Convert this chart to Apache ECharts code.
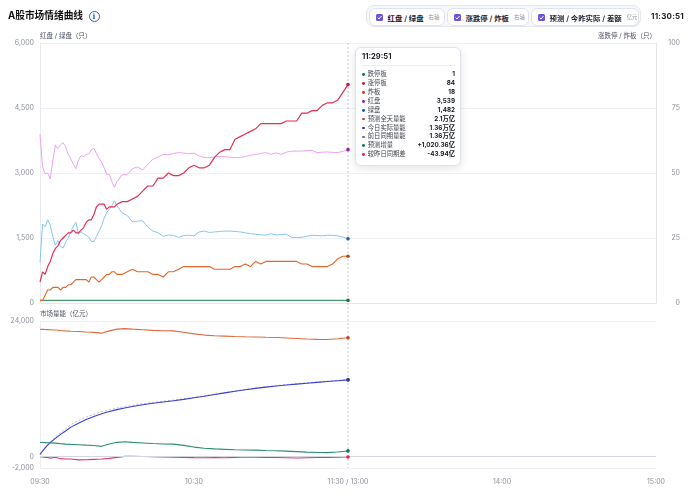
<!DOCTYPE html>
<html lang="zh-CN">
  <head>
    <meta charset="utf-8">
    <title>A股市场情绪曲线</title>
    <script src="https://cdn.jsdelivr.net/npm/echarts@6.0.0/dist/echarts.min.js"></script>
    <style>
      body { margin: 0; background: #fff; font-family: Inter, "Noto Sans CJK SC", sans-serif; }
      #wrap { position: relative; width: 690px; height: 499px; overflow: hidden; }
      #main { position: absolute; left: 0; top: 0; width: 690px; height: 499px; }
      .title { position: absolute; left: 8px; top: 9px; font-size: 9.7px; font-weight: 700; color: #111; line-height: 14px; }
      .info { position: absolute; left: 88.5px; top: 10.5px; width: 9px; height: 9px; border: 1.3px solid #2f5fd6; border-radius: 50%;
              color: #2f5fd6; font-size: 7.5px; font-weight: 700; line-height: 9px; text-align: center; font-family: "DejaVu Serif", serif; }
      .legend { position: absolute; left: 366px; top: 5px; width: 275px; height: 22px; box-sizing: border-box;
                border: 1px solid #e3e6ef; border-radius: 8px; background: #f8f9fc; }
      .pill { position: absolute; top: 2px; height: 18px; box-sizing: border-box; border: 1px solid #dfe3ec; border-radius: 6px;
              background: #fff; display: flex; align-items: center; padding-left: 6px; white-space: nowrap; }
      .box { width: 7px; height: 7px; border-radius: 1.5px; background: #6c52e0; margin-right: 4.5px; position: relative; }
      .box svg { position: absolute; left: 0; top: 0; }
      .txt { font-size: 7.4px; font-weight: 600; color: #1f2330; }
      .sub { font-size: 5.4px; color: #8a8f9c; margin-left: 5px; }
      .clock { position: absolute; left: 651px; top: 10px; font-size: 8px; font-weight: 700; color: #222; line-height: 12px; letter-spacing: 0.2px; }
    </style>
  </head>
  <body>
    <div id="wrap">
      <div id="main"></div>
      <div class="title">A股市场情绪曲线</div>
      <div class="info">i</div>
      <div class="legend">
        <div class="pill" style="left:2px;width:76px"><span class="box"><svg width="7" height="7"><path d="M1.6 3.6 L3 5 L5.5 2" stroke="#fff" stroke-width="1" fill="none"/></svg></span><span class="txt">红盘 / 绿盘</span><span class="sub">右轴</span></div>
        <div class="pill" style="left:80px;width:82px"><span class="box"><svg width="7" height="7"><path d="M1.6 3.6 L3 5 L5.5 2" stroke="#fff" stroke-width="1" fill="none"/></svg></span><span class="txt">涨跌停 / 炸板</span><span class="sub">右轴</span></div>
        <div class="pill" style="left:164px;width:108px"><span class="box"><svg width="7" height="7"><path d="M1.6 3.6 L3 5 L5.5 2" stroke="#fff" stroke-width="1" fill="none"/></svg></span><span class="txt">预测 / 今昨实际 / 差额</span><span class="sub">亿元</span></div>
      </div>
      <div class="clock">11:30:51</div>
    </div>

    <script>
        // x 轴：交易分钟（0 = 09:30，120 = 11:30/13:00，240 = 15:00）
        var xLabels = ['09:30', '10:30', '11:30 / 13:00', '14:00', '15:00'];
        var tipTime = '11:29:51';

        // 上图采样时间（分钟）
        var topMinutes = [0,1,2,3,4,5,6,7,8,9,10,11,12,13,14,15,16,17,18,19,20,21,22,23,24,25,26,27,28,29,30,
            32,34,36,38,40,42,44,46,48,50,52,54,56,58,60,62,64,66,68,70,72,74,76,78,80,82,84,86,88,90,
            92,94,96,98,100,102,104,106,108,110,112,114,116,118,120];

        var redCount = [3890,3150,2980,3000,2860,3300,3640,3560,3650,3700,3600,3430,3320,3200,3100,3300,3400,3380,3430,3440,
            3540,3570,3450,3340,3250,3120,2970,2970,2800,2670,2800,
            2960,2960,3100,3140,3070,3200,3320,3370,3430,3420,3450,3470,3460,3440,3460,3390,3360,3350,3375,3380,
            3375,3365,3355,3355,3380,3410,3430,3450,3470,3430,3465,3430,3480,3505,3505,3506,3515,3520,3470,3480,
            3485,3475,3470,3500,3539];
        var greenCount = [936,1820,1760,1920,1800,1530,1330,1440,1300,1270,1400,1500,1640,1780,1860,1588,1640,1600,1560,1520,
            1420,1420,1540,1660,1780,1960,2090,2160,2240,2355,2240,
            2080,2020,1870,1890,1900,1750,1660,1620,1540,1570,1560,1512,1560,1565,1550,1640,1660,1627,1640,1650,
            1660,1660,1650,1640,1620,1600,1588,1575,1565,1600,1570,1580,1588,1515,1512,1515,1540,1565,1555,1550,
            1565,1560,1550,1520,1482];
        var limitUp = [8,12,11,14,16,19,21,22,24,25,26,27,27,28,27,27,28,29,31,32,32,34,37,38,38,38,36,37,37,37,38,
            39,39,40,41,43,45,45,48,48,50,49,49,50,52,53,52,52,53,56,58,59,59,63,64,65,66,67,69,69,69,
            69,69,70,70,70,73,73,74,74,76,77,77,78,81,84];
        var brokenBoard = [1,1,3,5,5,6,6,6,5,6,6,7,7,8,9,9,9,9,9,8,10,10,9,8,9,10,11,11,12,12,11,
            11,12,13,12,12,12,11,11,10,12,12,13,14,14,14,14,14,14,13,13,13,13,14,14,15,14,16,15,16,16,
            16,16,16,16,16,15,15,14,14,14,14,15,17,18,18];
        var limitDownMinutes = [0, 120];
        var limitDown = [1, 1];

        // 下图采样时间（分钟）
        var volMinutes = [0,1,2,3,4,6,8,10,12,15,18,21,24,27,30,33,36,40,44,48,52,56,60,64,68,72,76,80,84,88,92,96,100,104,108,112,116,120];
        var volForecast = [22540,22520,22500,22480,22460,22420,22330,22250,22200,22140,22060,21990,21850,22250,22560,22650,22560,22450,22340,
            22270,22250,22020,21720,21510,21400,21320,21250,21210,21180,21120,21075,21000,20910,20820,20750,20740,20850,21040];
        var volToday = [400,1000,1550,2050,2500,3250,3950,4550,5230,5920,6580,7100,7600,7990,8330,8620,8880,9180,9450,
            9680,9900,10140,10420,10700,11000,11290,11580,11850,12080,12300,12500,12680,12840,12990,13140,13290,13430,13580];
        var volPrevSame = [400,1000,1600,2150,2650,3500,4300,4950,5650,6400,7000,7500,7950,8300,8600,8850,9080,9350,9600,
            9800,10000,10230,10500,10780,11060,11350,11640,11900,12140,12360,12570,12760,12920,13070,13220,13370,13490,13624];
        var volIncrement = [2520,2500,2480,2460,2440,2400,2310,2230,2180,2120,2040,1970,1830,2230,2540,2630,2540,2430,2320,
            2250,2230,2000,1700,1490,1380,1300,1230,1190,1160,1100,1055,980,890,800,730,720,830,1020.36];
        var volDiff = [0,-60,-120,-150,-250,-100,-350,-420,-420,-560,-540,-480,-420,-300,-120,60,60,40,0,
            -60,-100,-130,-170,-175,-170,-175,-120,-60,-80,-117,-150,-190,-234,-180,-130,-117,-110,-43.94];

        var FONT = 'Inter, "Noto Sans CJK SC", sans-serif';
        var labelGrey = '#8b909b';
        var nameGrey = '#4d5262';

        function pairs(xs, ys) {
            return ys.map(function (v, i) { return [xs[i], v]; });
        }
        function lastOf(a) { return a[a.length - 1]; }

        function endDot(xs, ys, color) {
            return {
                symbol: 'circle', symbolSize: 3.6, silent: true,
                itemStyle: {color: color},
                label: {show: false},
                data: [{coord: [lastOf(xs), lastOf(ys)]}]
            };
        }

        function lineSeries(name, xi, yi, xs, ys, color, dotColor, width, extra) {
            var s = {
                name: name, type: 'line', xAxisIndex: xi, yAxisIndex: yi,
                data: pairs(xs, ys), showSymbol: false, symbol: 'none',
                lineStyle: {color: color, width: width || 1.1},
                itemStyle: {color: dotColor},
                markPoint: endDot(xs, ys, dotColor),
                animation: false
            };
            for (var k in extra) s[k] = extra[k];
            return s;
        }

        function fmtCount(v) { return Math.round(v).toLocaleString('en-US'); }
        function fmtWan(v) { return (v / 10000).toFixed(2).replace(/0+$/, '').replace(/\.$/, '') + '万亿'; }
        function fmtYi(v) {
            return (v > 0 ? '+' : '') + v.toLocaleString('en-US', {minimumFractionDigits: 2, maximumFractionDigits: 2}) + '亿';
        }

        var tipRows = [
            ['跌停板', '#127a45', fmtCount(lastOf(limitDown))],
            ['涨停板', '#c81e3c', fmtCount(lastOf(limitUp))],
            ['炸板', '#c2480f', fmtCount(lastOf(brokenBoard))],
            ['红盘', '#9d1fb0', fmtCount(lastOf(redCount))],
            ['绿盘', '#1d5fb0', fmtCount(lastOf(greenCount))],
            ['预测全天量能', '#c8461a', fmtWan(lastOf(volForecast))],
            ['今日实际量能', '#2f33b8', fmtWan(lastOf(volToday))],
            ['前日同期量能', '#6b7080', fmtWan(lastOf(volPrevSame))],
            ['预测增量', '#127a5a', fmtYi(lastOf(volIncrement))],
            ['较昨日同期差', '#e0245a', fmtYi(lastOf(volDiff))]
        ];

        function tipHtml() {
            var h = '<div style="font-family:' + FONT.replace(/"/g, "'") + ';">';
            h += '<div style="font-size:7.6px;font-weight:700;color:#1a1d26;line-height:11px;padding-bottom:3px;border-bottom:1px solid #eceef2;margin-bottom:4px;">' + tipTime + '</div>';
            tipRows.forEach(function (r) {
                h += '<div style="display:flex;align-items:center;height:8.93px;line-height:8.93px;font-size:6.3px;">' +
                    '<span style="width:2.8px;height:2.8px;border-radius:50%;background:' + r[1] + ';margin-right:3px;flex:none;"></span>' +
                    '<span style="color:#40444f;flex:1;">' + r[0] + '</span>' +
                    '<span style="color:#15171e;font-weight:700;">' + r[2] + '</span></div>';
            });
            h += '</div>';
            return h;
        }

        var chart = echarts.init(document.getElementById('main'), null, {renderer: 'canvas'});

        var xBase = {
            type: 'value', min: 0, max: 240, interval: 60,
            axisTick: {show: false}, splitLine: {show: false}
        };

        var option = {
            animation: false,
            textStyle: {fontFamily: FONT},
            grid: [
                {left: 40, right: 34, top: 43, height: 260},
                {left: 40, right: 34, top: 321, height: 147}
            ],
            tooltip: {
                trigger: 'axis', triggerOn: 'none', alwaysShowContent: true,
                axisPointer: {type: 'line', lineStyle: {opacity: 0}},
                padding: [3, 5, 6, 6],
                backgroundColor: '#fff', borderColor: '#dfe2e8', borderWidth: 1,
                extraCssText: 'border-radius:6px;box-shadow:0 2px 8px rgba(30,40,70,0.13);width:106px;box-sizing:border-box;',
                transitionDuration: 0,
                position: function () {
                    var px = chart.convertToPixel({xAxisIndex: 0}, 120);
                    return [px + 7, 47];
                },
                formatter: function () { return tipHtml(); }
            },
            xAxis: [
                Object.assign({}, xBase, {
                    gridIndex: 0,
                    axisLine: {show: true, lineStyle: {color: '#e6e8ec'}},
                    axisLabel: {show: false}
                }),
                Object.assign({}, xBase, {
                    gridIndex: 1,
                    axisLine: {show: true, onZero: false, lineStyle: {color: '#eef0f3'}},
                    axisLabel: {
                        show: true, color: labelGrey, fontSize: 7, margin: 10,
                        formatter: function (v) { return xLabels[Math.round(v / 60)]; }
                    }
                })
            ],
            yAxis: [
                {
                    type: 'value', gridIndex: 0, position: 'left', min: 0, max: 6000, interval: 1500,
                    name: '红盘 / 绿盘（只）', nameGap: 4,
                    nameTextStyle: {color: nameGrey, fontSize: 6.5, align: 'left', verticalAlign: 'bottom', padding: [0, 0, 0, 0]},
                    axisLine: {show: true, lineStyle: {color: '#e8eaee'}},
                    axisTick: {show: false},
                    axisLabel: {color: labelGrey, fontSize: 7, margin: 6,
                        formatter: function (v) { return v.toLocaleString('en-US'); }},
                    splitLine: {show: true, lineStyle: {color: '#f0f1f4'}}
                },
                {
                    type: 'value', gridIndex: 0, position: 'right', min: 0, max: 100, interval: 25,
                    name: '涨跌停 / 炸板（只）', nameGap: 4,
                    nameTextStyle: {color: nameGrey, fontSize: 6.5, align: 'right', verticalAlign: 'bottom'},
                    axisLine: {show: true, lineStyle: {color: '#e3e5ea'}},
                    axisTick: {show: false},
                    axisLabel: {color: labelGrey, fontSize: 7, margin: 24, align: 'right'},
                    splitLine: {show: false}
                },
                {
                    type: 'value', gridIndex: 1, position: 'left', min: -2000, max: 24000, interval: 26000,
                    name: '市场量能（亿元）', nameGap: 4,
                    nameTextStyle: {color: nameGrey, fontSize: 6.5, align: 'left', verticalAlign: 'bottom'},
                    axisLine: {show: true, lineStyle: {color: '#eceef1'}},
                    axisTick: {show: false},
                    axisLabel: {color: labelGrey, fontSize: 7, margin: 6,
                        formatter: function (v) { return v.toLocaleString('en-US'); }},
                    splitLine: {show: true, lineStyle: {color: '#f0f1f4'}}
                }
            ],
            series: [
                lineSeries('红盘', 0, 0, topMinutes, redCount, '#d993dd', '#9d1fb0', 1),
                lineSeries('绿盘', 0, 0, topMinutes, greenCount, '#79b5d8', '#1d5fb0', 1),
                lineSeries('跌停板', 0, 1, limitDownMinutes, limitDown, '#3e9466', '#127a45', 1.4),
                lineSeries('炸板', 0, 1, topMinutes, brokenBoard, '#cc5e2a', '#c2480f', 1.1),
                lineSeries('涨停板', 0, 1, topMinutes, limitUp, '#cf2b4b', '#c81e3c', 1.2),

                lineSeries('预测全天量能', 1, 2, volMinutes, volForecast, '#dc6a3e', '#d13d17', 1.1),
                lineSeries('前日同期量能', 1, 2, volMinutes, volPrevSame, '#b9bcc7', '#7a7f8e', 1, {
                    lineStyle: {color: '#b9bcc7', width: 1, type: [2, 2]}
                }),
                lineSeries('今日实际量能', 1, 2, volMinutes, volToday, '#3b3fcc', '#2f33b8', 1.1),
                lineSeries('预测增量', 1, 2, volMinutes, volIncrement, '#2f8c75', '#127a45', 1.1),
                lineSeries('较昨日同期差', 1, 2, volMinutes, volDiff, '#d8396f', '#e0245a', 1.1, {
                    markLine: {
                        silent: true, symbol: 'none', animation: false,
                        lineStyle: {color: '#d3d6dc', type: 'solid', width: 1},
                        label: {show: true, position: 'start', formatter: '0', color: labelGrey, fontSize: 7, distance: 6},
                        data: [{yAxis: 0}]
                    }
                })
            ]
        };

        chart.setOption(option);

        // 当前时刻竖虚线（贯穿上下两图）
        var nowX = chart.convertToPixel({xAxisIndex: 0}, 120);
        var topY = chart.convertToPixel({yAxisIndex: 0}, 6000);
        var botY = chart.convertToPixel({yAxisIndex: 2}, -2000);
        chart.setOption({
            graphic: [{
                type: 'line', silent: true, z: 1,
                shape: {x1: nowX, y1: topY, x2: nowX, y2: botY},
                style: {stroke: '#c3c6ce', lineWidth: 1, lineDash: [2, 2]}
            }]
        });

        chart.dispatchAction({type: 'showTip', seriesIndex: 4, dataIndex: topMinutes.length - 1});
    </script>
  </body>
</html>
